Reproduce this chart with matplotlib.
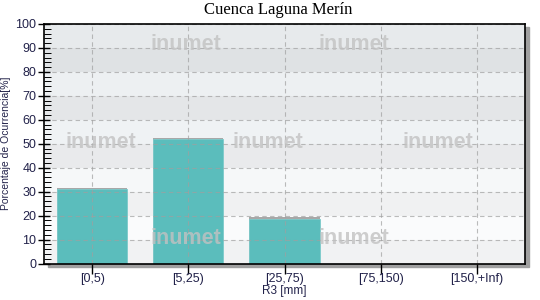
import numpy as np
import matplotlib.pyplot as plt
from matplotlib.patches import Rectangle
from matplotlib.ticker import MultipleLocator

# datos del histograma
categorias = ['[0,5)', '[5,25)', '[25,75)', '[75,150)', '[150,+Inf)']
porcentaje = np.array([31.0, 52.0, 18.7, 0.0, 0.0])

titulo = 'Cuenca Laguna Merín'
xlab = 'R3 [mm]'
ylab = 'Porcentaje de Ocurrencia[%]'

# bandas de fondo (de abajo hacia arriba)
bandas = ['#f1f2f3', '#fafbfc', '#f0f1f2', '#f6f8f9', '#e9eaec',
          '#eff2f4', '#e4e6e8', '#edf0f2', '#dfe2e4', '#e7eaec']

fig = plt.figure(figsize=(5.4, 3.0), dpi=100)
ax_pos = [44/540, 1 - 263.5/300, 481/540, 239.5/300]
ax = fig.add_axes(ax_pos)
ax.set_zorder(2)

# sombra del grafico
sh = Rectangle((ax_pos[0] + 4/540, ax_pos[1] - 3/300), ax_pos[2], ax_pos[3],
               transform=fig.transFigure, color='#a0a0a0', zorder=0)
fig.patches.append(sh)

x = np.arange(len(categorias))
for i, c in enumerate(bandas):
    ax.axhspan(i*10, (i+1)*10, color=c, lw=0, zorder=0)

# sombra superior de las barras
ax.bar(x, np.where(porcentaje > 0, porcentaje + 0.6, 0), width=0.73,
       color='#a8a8a8', lw=0, zorder=1)
ax.bar(x, porcentaje, width=0.73, color='#5bbdbc', edgecolor='#7ccaca',
       lw=0.6, zorder=2)

ax.set_xlim(-0.5, 4.5)
ax.set_ylim(0, 100)
ax.set_xticks(x)
ax.set_xticklabels(categorias)
ax.yaxis.set_major_locator(MultipleLocator(10))
ax.yaxis.set_minor_locator(MultipleLocator(2))
ax.grid(True, which='major', ls=(0, (4, 3)), color='#a0a0a0', lw=0.8, alpha=0.7)
ax.set_axisbelow(False)
for gl in ax.get_xgridlines() + ax.get_ygridlines():
    gl.set_zorder(3)

txtcol = '#22224a'
ax.tick_params(axis='y', which='major', direction='inout', length=9, width=1,
               labelsize=9, labelcolor=txtcol, pad=1)
ax.tick_params(axis='y', which='minor', direction='in', length=5, width=0.7)
ax.tick_params(axis='x', which='major', direction='out', length=7, width=1,
               labelsize=9, labelcolor=txtcol, pad=0)
for s in ax.spines.values():
    s.set_linewidth(1.2)
    s.set_color('black')
    s.set_zorder(5)

ax.set_xlabel(xlab, fontsize=8.5, color=txtcol, labelpad=0, family='Liberation Sans')
ax.set_ylabel(ylab, fontsize=7.5, color=txtcol, labelpad=3, family='Liberation Sans')
for lbl in ax.get_xticklabels() + ax.get_yticklabels():
    lbl.set_family('Liberation Sans')

fig.text(0.515, 1 - 10/300, titulo, ha='center', va='center', fontsize=12,
         family='Liberation Serif')

# marcas de agua
marcas = [(186, 45), (354, 45), (101, 142), (268, 142), (438, 142),
          (186, 238), (354, 238)]
for px, py in marcas:
    fig.text(px/540, 1 - py/300, 'inumet', ha='center', va='center',
             fontsize=15.5, fontweight='bold', color='#c2c2c2', alpha=0.8,
             family='Liberation Sans', zorder=10)

fig.savefig('out.png', dpi=100)
